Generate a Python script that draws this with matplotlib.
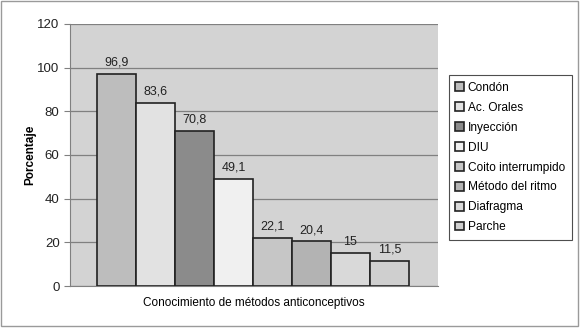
import matplotlib
matplotlib.use('Agg')
import matplotlib.pyplot as plt
from matplotlib.patches import Rectangle

plt.rcParams['font.family'] = ['Liberation Sans', 'DejaVu Sans']

# Data
methods = ['Condón', 'Ac. Orales', 'Inyección', 'DIU', 'Coito interrumpido',
           'Método del ritmo', 'Diafragma', 'Parche']
values = [96.9, 83.6, 70.8, 49.1, 22.1, 20.4, 15, 11.5]
labels = ['96,9', '83,6', '70,8', '49,1', '22,1', '20,4', '15', '11,5']
colors = ['#bdbdbd', '#e2e2e2', '#8b8b8b', '#f0f0f0', '#c6c6c6', '#b3b3b3',
          '#d9d9d9', '#cfcfcf']

fig = plt.figure(figsize=(5.8, 3.28), dpi=100)
fig.patch.set_facecolor('white')
fig.patches.append(Rectangle((0.002, 0.006), 0.995, 0.99, transform=fig.transFigure,
                             fill=False, edgecolor='#9a9a9a', linewidth=1))

ax = fig.add_axes([0.1207, 0.128, 0.634, 0.799])
ax.set_facecolor('#d3d3d3')

x = list(range(len(values)))
bars = ax.bar(x, values, width=1.0, color=colors, edgecolor='#222222', linewidth=1.2,
              zorder=3)
for i, b in enumerate(bars):
    b.set_label(methods[i])
    ax.text(b.get_x() + b.get_width() / 2, values[i] + 2.5, labels[i],
            ha='center', va='bottom', fontsize=9, color='#222222')

ax.set_ylim(0, 120)
ax.set_xlim(-1.19, 8.24)
ax.set_yticks(range(0, 121, 20))
ax.set_xticks([])
ax.tick_params(axis='y', labelsize=9.5, length=4, color='#808080', labelcolor='#222222')
ax.grid(axis='y', color='#808080', linewidth=0.9, zorder=0)
for s in ['top', 'right']:
    ax.spines[s].set_visible(False)
ax.spines['left'].set_color('#808080')
ax.spines['bottom'].set_color('#808080')

ax.set_ylabel('Porcentaje', fontsize=8.5, fontweight='bold', labelpad=1)
ax.set_xlabel('Conocimiento de métodos anticonceptivos', fontsize=8.5, labelpad=8)

leg = ax.legend(loc='center left', bbox_to_anchor=(1.03, 0.49), fontsize=8.6,
                frameon=True, fancybox=False, edgecolor='#222222',
                handlelength=0.75, handleheight=0.75, handletextpad=0.3,
                labelspacing=0.66, borderpad=0.55, borderaxespad=0)
leg.get_frame().set_linewidth(0.8)

fig.savefig('out.png', dpi=100)
